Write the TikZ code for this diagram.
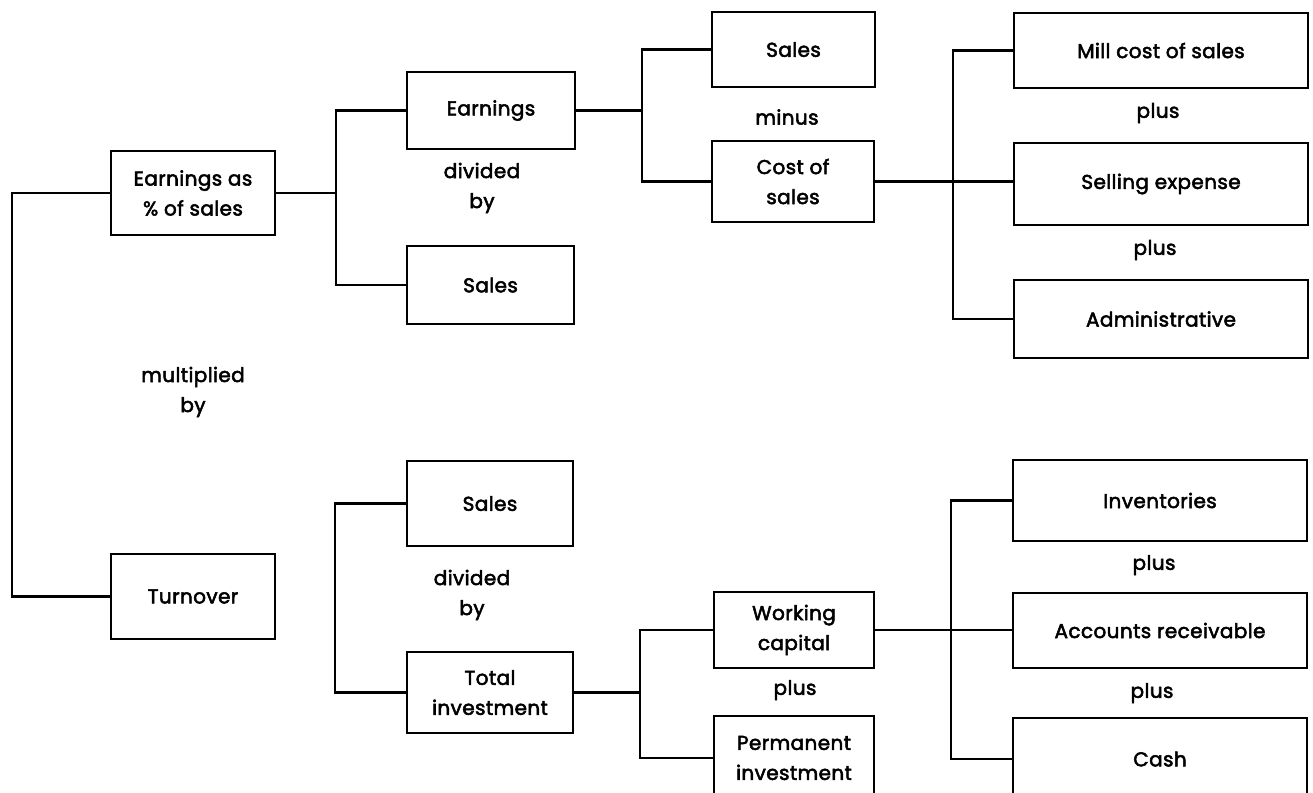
\documentclass[tikz,border=0pt]{standalone}
\usepackage{fontspec}
\setmainfont{Poppins}[FakeBold=2.6, LetterSpace=2]
\begin{document}
\begin{tikzpicture}[x=1pt,y=-1pt,
  box/.style={draw, line width=2.4pt, align=center, inner sep=0pt,
    font=\fontsize{20}{30}\selectfont},
  lbl/.style={align=center, inner sep=0pt, font=\fontsize{20}{30}\selectfont},
  conn/.style={line width=2.2pt}]
\useasboundingbox (0,0) rectangle (1313,792);
\clip (0,0) rectangle (1313,792);
% boxes
\node[box, minimum width=164pt, minimum height=84pt] (eps) at (193,193) {Earnings as\\\% of sales};
\node[box, minimum width=164pt, minimum height=85pt] (turn) at (193,596.5) {Turnover};
\node[box, minimum width=168pt, minimum height=77pt] (earn) at (491,110.5) {Earnings};
\node[box, minimum width=167pt, minimum height=78pt] (salesA) at (490.5,285) {Sales};
\node[box, minimum width=163pt, minimum height=75pt] (salesT) at (793.5,49.5) {Sales};
\node[box, minimum width=162pt, minimum height=81pt] (cos) at (793,181.5) {Cost of\\sales};
\node[box, minimum width=294pt, minimum height=75pt] (mill) at (1161,50.5) {Mill cost of sales};
\node[box, minimum width=294pt, minimum height=82pt] (sell) at (1161,184) {Selling expense};
\node[box, minimum width=294pt, minimum height=78pt] (admin) at (1161,319) {Administrative};
\node[box, minimum width=166pt, minimum height=85pt] (salesB) at (490,503.5) {Sales};
\node[box, minimum width=166pt, minimum height=81pt] (tinv) at (490,692.5) {Total\\investment};
\node[box, minimum width=160pt, minimum height=76pt] (wc) at (794,630) {Working\\capital};
\node[box, minimum width=160pt, minimum height=84pt] (pinv) at (794,758) {Permanent\\investment};
\node[box, minimum width=294pt, minimum height=81pt] (inv) at (1160,500.5) {Inventories};
\node[box, minimum width=294pt, minimum height=75pt] (ar) at (1160,630.5) {Accounts receivable};
\node[box, minimum width=294pt, minimum height=82pt] (cash) at (1160,759) {Cash};
% labels
\node[lbl] (minus) at (787,117) {minus};
\node[lbl] (div1) at (482,188) {divided\\by};
\node[lbl] (mult) at (193,392) {multiplied\\by};
\node[lbl] (plus1) at (1158,113) {plus};
\node[lbl] (plus2) at (1155,250) {plus};
\node[lbl] (div2) at (472,595) {divided\\by};
\node[lbl] (plus3) at (795,690) {plus};
\node[lbl] (plus4) at (1154,565) {plus};
\node[lbl] (plus5) at (1152,693) {plus};
% bracket coordinates
\coordinate (L) at (12,0);
\coordinate (B1) at (336,0);
\coordinate (B2) at (642,0);
\coordinate (B3) at (953,0);
\coordinate (B4) at (335,0);
\coordinate (B5) at (640,0);
\coordinate (B6) at (951,0);
% connectors
\draw[conn] (eps.west) -- (eps.west -| L) -- (turn.west -| L) -- (turn.west);
\draw[conn] (eps.east) -- (eps.east -| B1);
\draw[conn] (earn.west) -- (earn.west -| B1) -- (salesA.west -| B1) -- (salesA.west);
\draw[conn] (earn.east) -- (earn.east -| B2);
\draw[conn] (salesT.west) -- (salesT.west -| B2) -- (cos.west -| B2) -- (cos.west);
\draw[conn] (cos.east) -- (cos.east -| sell.west);
\draw[conn] (mill.west) -- (mill.west -| B3) -- (admin.west -| B3) -- (admin.west);
\draw[conn] (salesB.west) -- (salesB.west -| B4) -- (tinv.west -| B4) -- (tinv.west);
\draw[conn] (tinv.east) -- (tinv.east -| B5);
\draw[conn] (wc.west) -- (wc.west -| B5) -- (pinv.west -| B5) -- (pinv.west);
\draw[conn] (wc.east) -- (wc.east -| ar.west);
\draw[conn] (inv.west) -- (inv.west -| B6) -- (cash.west -| B6) -- (cash.west);
\end{tikzpicture}
\end{document}
